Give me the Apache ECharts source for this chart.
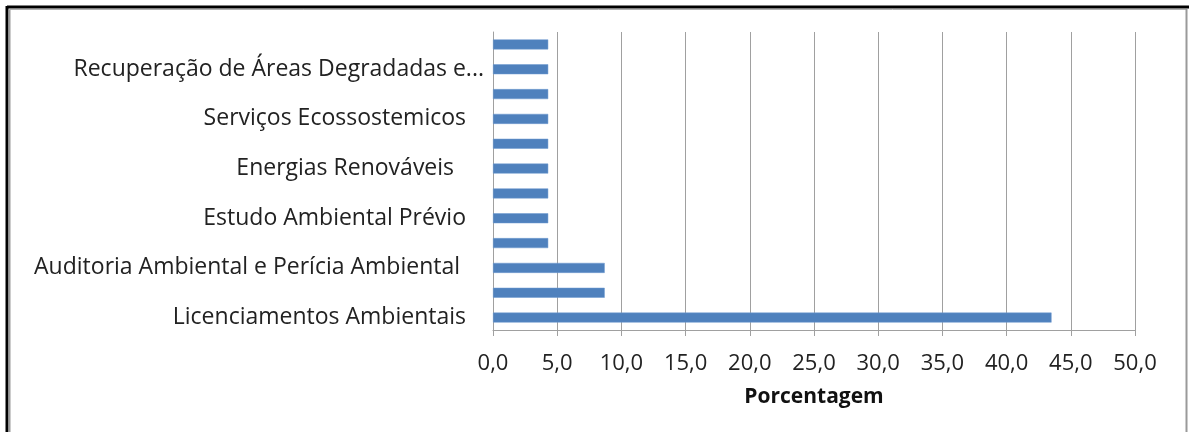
<!DOCTYPE html>
<html>
<head>
<meta charset="utf-8">
<script src="https://cdn.jsdelivr.net/npm/echarts@6/dist/echarts.min.js"></script>
<style>
html,body{margin:0;padding:0;background:#fff;}
#c{width:1189px;height:432px;}
</style>
</head>
<body>
<div id="c"></div>
<script>
// categories from bottom to top (unlabelled ones are hidden by the axis' label skipping)
const categories = [
  'Licenciamentos Ambientais',
  '',
  'Auditoria Ambiental e Perícia Ambiental ',
  '',
  'Estudo Ambiental Prévio',
  '',
  'Energias Renováveis  ',
  '',
  'Serviços Ecossostemicos',
  '',
  'Recuperação de Áreas Degradadas e...',
  ''
];
const values = [43.5, 8.7, 8.7, 4.3, 4.3, 4.3, 4.3, 4.3, 4.3, 4.3, 4.3, 4.3];
const xTicks = {min: 0, max: 50, interval: 5};
const xName = 'Porcentagem';

const chart = echarts.init(document.getElementById('c'), null, {renderer: 'canvas'});
const FONT = '"Open Sans"';
chart.setOption({
  animation: false,
  grid: {left: 493, right: 54, top: 32, bottom: 102, containLabel: false},
  xAxis: {
    type: 'value',
    min: xTicks.min, max: xTicks.max, interval: xTicks.interval,
    name: xName,
    nameLocation: 'middle',
    nameGap: 57,
    nameTextStyle: {fontFamily: FONT, fontWeight: 'bold', fontSize: 21, color: '#111'},
    axisLine: {show: true, lineStyle: {color: '#a0a0a0', width: 1}},
    axisTick: {show: true, length: 6, lineStyle: {color: '#a0a0a0'}},
    splitLine: {show: true, lineStyle: {color: '#a0a0a0', width: 1}},
    axisLabel: {
      fontFamily: FONT, fontSize: 22, color: '#222', margin: 23,
      formatter: v => v.toFixed(1).replace('.', ',')
    }
  },
  yAxis: {
    type: 'category',
    data: categories,
    axisLine: {show: true, lineStyle: {color: '#a0a0a0', width: 1}},
    axisTick: {show: false},
    splitLine: {show: false},
    axisLabel: {
      interval: 1,
      fontFamily: FONT, fontSize: 23, color: '#222',
      margin: 9,
      formatter: v => v.startsWith('Recupera') ? '{b|' + v + '}' : '{a|' + v + '}',
      rich: {
        a: {fontFamily: FONT, fontSize: 23, color: '#222', padding: [0, 18, 0, 0]},
        b: {fontFamily: FONT, fontSize: 23, color: '#222'}
      }
    }
  },
  series: [{
    type: 'bar',
    data: values,
    barWidth: 10,
    itemStyle: {color: '#4f81bd', borderColor: '#6f9bd0', borderWidth: 0.5}
  }],
  graphic: [
    {type: 'line', shape: {x1: 7, y1: 7, x2: 1189, y2: 7}, style: {stroke: '#000', lineWidth: 3}},
    {type: 'line', shape: {x1: 7, y1: 6, x2: 7, y2: 432}, style: {stroke: '#000', lineWidth: 3}},
    {type: 'line', shape: {x1: 9.5, y1: 9.5, x2: 1187, y2: 9.5}, style: {stroke: '#b0b0b0', lineWidth: 1}},
    {type: 'line', shape: {x1: 9.5, y1: 9.5, x2: 9.5, y2: 432}, style: {stroke: '#9a9a9a', lineWidth: 2}},
    {type: 'line', shape: {x1: 1186.5, y1: 9, x2: 1186.5, y2: 432}, style: {stroke: '#9a9a9a', lineWidth: 2}}
  ]
});
</script>
</body>
</html>
